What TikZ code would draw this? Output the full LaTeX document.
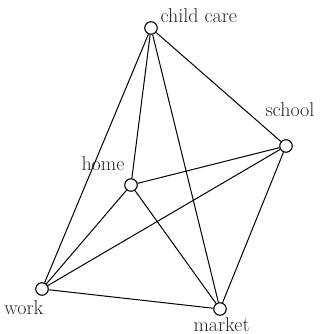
\documentclass[tikz,border=0pt]{standalone}
\begin{document}
\begin{tikzpicture}[x=1pt,y=-1pt,line width=1pt,
  spot/.style={draw,circle,inner sep=0pt,minimum size=12.5pt,line width=1.1pt},
  tag/.style={anchor=base west,inner sep=0pt,font=\fontsize{20}{22}\selectfont,text=black!85}]
\useasboundingbox (0,0) rectangle (327,334);
\node[spot] (cc) at (151,28) {}; \node[spot] (school) at (286,146) {};
\node[spot] (home) at (131,185) {}; \node[spot] (work) at (42,289) {};
\node[spot] (market) at (220,309) {};
\node[tag] (cclbl) at (160,22.5) {child care}; \node[tag] (schoollbl) at (265,116) {school};
\node[tag] (homelbl) at (81,170) {home}; \node[tag] (worklbl) at (4,314) {work};
\node[tag] (marketlbl) at (193,331.5) {market};
\draw (cc)--(school); \draw (cc)--(home); \draw (cc)--(work); \draw (cc)--(market);
\draw (school)--(home); \draw (school)--(work); \draw (school)--(market);
\draw (home)--(work); \draw (home)--(market); \draw (work)--(market);
\end{tikzpicture}
\end{document}
